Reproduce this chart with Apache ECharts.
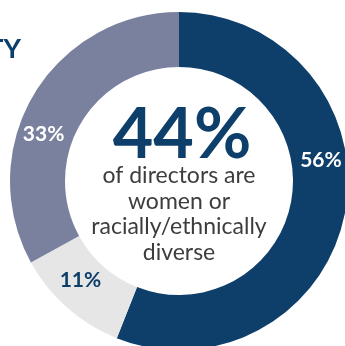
<!DOCTYPE html>
<html>
<head>
<meta charset="UTF-8"/>
<script src="https://cdn.jsdelivr.net/npm/echarts@6/dist/echarts.min.js"></script>
<style>
  html, body { margin: 0; padding: 0; background: #ffffff; }
  #c { width: 345px; height: 346px; }
</style>
</head>
<body>
<div id="c"></div>
<script>
// slices, clockwise from 12 o'clock
const categories = ["Not diverse", "Women & racially/ethnically diverse", "Women or racially/ethnically diverse"];
const values = [56, 11, 33];
const colors = ["#0e3f6a", "#e6e6e6", "#7a819e"];
const labelColors = ["#ffffff", "#0e3f6a", "#ffffff"];
// nudges from the default inside-label spot (px)
const labelShift = [[0, -48], [-3, -9], [-11, 27]];

const headline = "44%";
const subline = ["of directors are", "women or", "racially/ethnically", "diverse"];

const chart = echarts.init(document.getElementById("c"), null, { renderer: "canvas" });

chart.setOption({
  animation: false,
  backgroundColor: "#ffffff",
  title: {
    text: "DIVERSITY",
    right: 319,
    top: 31,
    textStyle: { fontFamily: "Lato", fontWeight: "bold", fontSize: 27, color: "#0e3f6a" }
  },
  series: [{
    type: "pie",
    center: [179, 181],
    radius: [114, 169],
    startAngle: 90,
    clockwise: true,
    silent: true,
    label: {
      show: true,
      position: "inside",
      formatter: "{c}%",
      fontFamily: "Lato",
      fontWeight: "bold",
      fontSize: 21
    },
    labelLine: { show: false },
    labelLayout: (p) => ({ dx: labelShift[p.dataIndex][0], dy: labelShift[p.dataIndex][1] }),
    data: categories.map((name, i) => ({
      name,
      value: values[i],
      itemStyle: { color: colors[i] },
      label: { color: labelColors[i] }
    }))
  }],
  graphic: [
    {
      type: "text",
      x: 182, y: 135,
      style: {
        text: headline,
        align: "center",
        verticalAlign: "middle",
        fontFamily: "Lato",
        fontWeight: "bold",
        fontSize: 70,
        fill: "#0e3f6a"
      }
    },
    {
      type: "text",
      x: 179, y: 214,
      style: {
        text: subline.join("\n"),
        align: "center",
        verticalAlign: "middle",
        fontFamily: "Lato",
        fontSize: 23,
        lineHeight: 25.7,
        fill: "#3d3d3d"
      }
    }
  ]
});
</script>
</body>
</html>
